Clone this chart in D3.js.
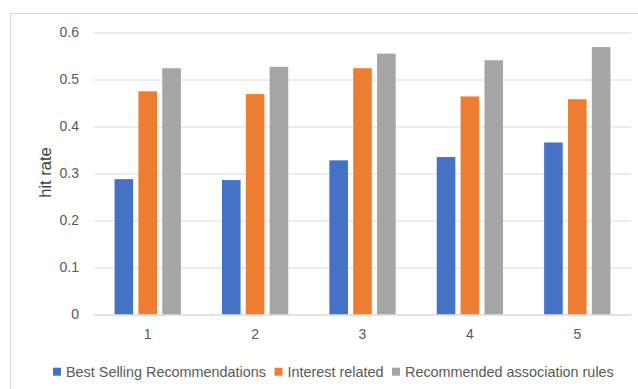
<!DOCTYPE html>
<html>
<head>
<meta charset="utf-8">
<script src="https://cdn.jsdelivr.net/npm/d3@7"></script>
<style>
  body { margin: 0; background: #fff; }
  svg { display: block; font-family: "Liberation Sans", Arial, sans-serif; }
</style>
</head>
<body>
<svg id="chart"></svg>
<script>
// categories and series
const categories = ["1", "2", "3", "4", "5"];
const seriesNames = ["Best Selling Recommendations", "Interest related", "Recommended association rules"];
const bestSelling = [0.288, 0.286, 0.328, 0.335, 0.366];
const interestRelated = [0.475, 0.469, 0.524, 0.464, 0.458];
const associationRules = [0.524, 0.527, 0.555, 0.541, 0.569];
const yTicks = [0, 0.1, 0.2, 0.3, 0.4, 0.5, 0.6];
const colors = ["#4472C4", "#ED7D31", "#A5A5A5"];

const config = {
    width: 638,
    height: 389,
    margin: {top: 32.5, right: 7, bottom: 74.5, left: 94}
};

const svg = d3.select("#chart")
    .attr("width", config.width)
    .attr("height", config.height);

// chart area border (only left and top are visible in the frame)
svg.append("rect")
    .attr("x", 10.5)
    .attr("y", 13.5)
    .attr("width", 640)
    .attr("height", 400)
    .attr("fill", "none")
    .attr("stroke", "#D9D9D9");

const width = config.width - config.margin.left - config.margin.right;
const height = config.height - config.margin.top - config.margin.bottom;

const g = svg.append("g")
    .attr("transform", `translate(${config.margin.left},${config.margin.top})`);

// rows for the grouped bars
const data = categories.map((c, i) => ({
    cat: c,
    values: [bestSelling[i], interestRelated[i], associationRules[i]]
}));

const xScale = d3.scaleBand()
    .domain(categories)
    .range([0, width]);

const groupWidth = 66.3;
const xInner = d3.scaleBand()
    .domain(d3.range(seriesNames.length))
    .range([(xScale.bandwidth() - groupWidth) / 2, (xScale.bandwidth() + groupWidth) / 2])
    .paddingInner(0.22);

const yScale = d3.scaleLinear()
    .domain([0, 0.6])
    .range([height, 0]);

// gridlines + y tick labels
const yAxis = d3.axisLeft(yScale)
    .tickValues(yTicks)
    .tickSize(-width)
    .tickPadding(15)
    .tickFormat(d => d === 0 ? "0" : d3.format(".1f")(d));

g.append("g")
    .attr("class", "y-axis")
    .call(yAxis)
    .call(ax => ax.select(".domain").remove())
    .call(ax => ax.selectAll("line").attr("stroke", "#D9D9D9").attr("stroke-width", 1))
    .call(ax => ax.selectAll("text")
        .attr("fill", "#595959")
        .attr("font-size", 14)
        .attr("font-family", "Liberation Sans, Arial, sans-serif"));

// bars
const groups = g.append("g")
    .selectAll("g")
    .data(data)
    .join("g")
    .attr("transform", d => `translate(${xScale(d.cat)},0)`);

groups.selectAll("rect")
    .data(d => d.values.map((v, k) => ({k, v})))
    .join("rect")
    .attr("x", d => xInner(d.k))
    .attr("width", xInner.bandwidth())
    .attr("y", d => yScale(d.v))
    .attr("height", d => height - yScale(d.v))
    .attr("fill", d => colors[d.k]);

// x axis baseline and labels
const xAxis = d3.axisBottom(xScale)
    .tickSize(0)
    .tickPadding(15);

g.append("g")
    .attr("class", "x-axis")
    .attr("transform", `translate(0,${height})`)
    .call(xAxis)
    .call(ax => ax.select(".domain").attr("stroke", "#D9D9D9"))
    .call(ax => ax.selectAll("text")
        .attr("fill", "#595959")
        .attr("font-size", 14)
        .attr("font-family", "Liberation Sans, Arial, sans-serif"));

// y axis title
svg.append("text")
    .attr("transform", "translate(45,172.5) rotate(-90)")
    .attr("text-anchor", "middle")
    .attr("dominant-baseline", "central")
    .attr("fill", "#404040")
    .attr("font-size", 16.5)
    .text("hit rate");

// legend, centred under the plot
const legend = svg.append("g").attr("class", "legend");
const items = legend.selectAll("g")
    .data(seriesNames)
    .join("g");

items.append("rect")
    .attr("width", 8)
    .attr("height", 8)
    .attr("y", -4)
    .attr("fill", (d, i) => colors[i]);

items.append("text")
    .attr("x", 13)
    .attr("dominant-baseline", "central")
    .attr("fill", "#595959")
    .attr("font-size", 14.4)
    .text(d => d);

let xPos = 0;
items.each(function() {
    const w = this.getBBox().width;
    d3.select(this).attr("transform", `translate(${xPos},0)`);
    xPos += w + 8.5;
});
const totalW = xPos - 8.5;
legend.attr("transform", `translate(${333.4 - totalW / 2},371.7)`);
</script>
</body>
</html>
